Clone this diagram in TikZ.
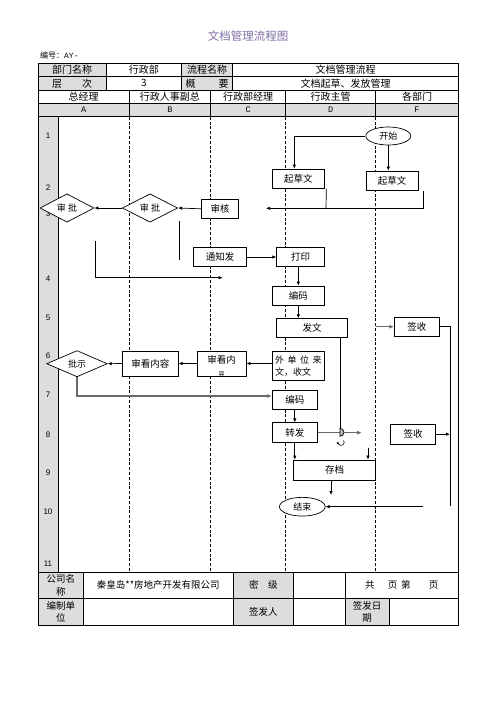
\documentclass[tikz,border=0pt]{standalone}
\usepackage{fontspec}
\setmainfont{Noto Sans CJK SC}
\newfontfamily\monof{Liberation Mono}
\newfontfamily\numf{Liberation Sans}
\usetikzlibrary{shapes.geometric,arrows.meta}
\definecolor{cellgray}{RGB}{221,221,221}
\definecolor{titlec}{RGB}{128,112,165}
\definecolor{linegray}{RGB}{105,105,105}
\tikzset{
  ln/.style={line width=0.7pt},
  tbl/.style={line width=0.8pt},
  lane/.style={line width=0.7pt, dash pattern=on 3pt off 1.8pt},
  box/.style={draw, fill=white, line width=0.7pt, inner sep=0pt, font=\fontsize{9.5}{11}\selectfont},
  dia/.style={diamond, draw, fill=white, line width=0.7pt, inner sep=0pt, font=\fontsize{9}{11}\selectfont},
  oval/.style={ellipse, draw, fill=white, line width=0.7pt, inner sep=0pt, font=\fontsize{9}{11}\selectfont},
  arr/.style={line width=0.7pt, -{Latex[length=4pt,width=3.5pt]}},
  garr/.style={line width=1.3pt, draw=linegray, -{Latex[length=4.5pt,width=4pt]}},
  cell/.style={inner sep=0pt, font=\fontsize{10}{12}\selectfont},
  fcell/.style={inner sep=0pt, align=center, font=\fontsize{9.5}{12.5}\selectfont},
  letter/.style={inner sep=0pt, font=\monof\fontsize{8.5}{10}\selectfont},
  rownum/.style={inner sep=0pt, font=\numf\fontsize{8}{10}\selectfont}
}
\begin{document}
\begin{tikzpicture}[x=1pt,y=-1pt]
\useasboundingbox[fill=white] (0,0) rectangle (496,702);

% title
\node[inner sep=0pt, text=titlec, font=\fontsize{11.5}{14}\selectfont] (title) at (248,36) {文档管理流程图};
\node[inner sep=0pt, anchor=west, font=\fontsize{8}{10}\selectfont] (code) at (40,55) {编号：{\monof AY-}};

% header table
\fill[cellgray] (38.3,63.3) rectangle (106,90);
\fill[cellgray] (181.7,63.3) rectangle (232.7,90);
\fill[cellgray] (38.3,103.3) rectangle (458.3,116.7);
\draw[tbl] (38.3,63.3) rectangle (458.3,116.7);
\draw[tbl] (38.3,76.7) -- (458.3,76.7);
\draw[tbl] (38.3,90) -- (458.3,90);
\draw[tbl] (38.3,103.3) -- (458.3,103.3);
\foreach \xx in {106,181.7,232.7} \draw[tbl] (\xx,63.3) -- (\xx,90);
\foreach \xx in {129,210.7,285.7,375.7} \draw[tbl] (\xx,90) -- (\xx,116.7);

\node[cell] (h11) at (72.2,70) {部门名称};
\node[cell] (h12) at (143.8,70) {行政部};
\node[cell] (h13) at (207.2,70) {流程名称};
\node[cell] (h14) at (345.5,70) {文档管理流程};
\node[cell] (h21) at (72.2,83.3) {层\hspace{2em}次};
\node[cell] (h22) at (143.8,83.3) {3};
\node[cell] (h23) at (207.2,83.3) {概\hspace{2.3em}要};
\node[cell] (h24) at (345.5,83.3) {文档起草、发放管理};
\node[cell] (n1) at (83.7,96.7) {总经理};
\node[cell] (n2) at (169.9,96.7) {行政人事副总};
\node[cell] (n3) at (248.2,96.7) {行政部经理};
\node[cell] (n4) at (330.7,96.7) {行政主管};
\node[cell] (n5) at (417,96.7) {各部门};
\node[letter] (la) at (83.7,110) {A};
\node[letter] (lb) at (169.9,110) {B};
\node[letter] (lc) at (248.2,110) {C};
\node[letter] (ld) at (330.7,110) {D};
\node[letter] (lf) at (417,110) {F};

% flow area
\fill[cellgray] (38.3,116.7) rectangle (58.3,572.3);
\foreach \xx in {129,210.7,285.7,375.7} \draw[lane] (\xx,116.7) -- (\xx,572.3);
\draw[tbl] (58.3,116.7) -- (58.3,572.3);
\draw[tbl] (38.3,116.7) rectangle (458.3,572.3);

\node[rownum] (r1) at (48,136) {1};
\node[rownum] (r2) at (48,187.7) {2};
\node[rownum] (r3) at (48,214) {3};
\node[rownum] (r4) at (48,279) {4};
\node[rownum] (r5) at (48,317.7) {5};
\node[rownum] (r6) at (48,356) {6};
\node[rownum] (r7) at (48,395) {7};
\node[rownum] (r8) at (48,435) {8};
\node[rownum] (r9) at (48,473) {9};
\node[rownum] (r10) at (48,512) {10};
\node[rownum] (r11) at (48,564) {11};

% nodes
\node[oval, minimum width=45, minimum height=18] (start) at (388.3,136) {开始};
\node[box, minimum width=52, minimum height=19.3] (qc1) at (298.3,178.7) {起草文};
\node[box, minimum width=52.3, minimum height=19.7] (qc2) at (392.2,180.8) {起草文};
\node[box, minimum width=36.6, minimum height=19] (sh) at (220,208.8) {审核};
\node[dia, minimum width=55.4, minimum height=25.7] (dm2) at (150,208) {审 批};
\node[dia, minimum width=54, minimum height=25.7] (dm1) at (67,208) {审 批};
\node[box, minimum width=53.4, minimum height=19.4] (tzf) at (220,257) {通知发};
\node[box, minimum width=47.6, minimum height=18.3] (dy) at (300.5,256.8) {打印};
\node[box, minimum width=52, minimum height=19] (bm1) at (298.3,295.5) {编码};
\node[box, minimum width=70.6, minimum height=18.6] (fw) at (312,328) {发文};
\node[box, minimum width=45, minimum height=18.7] (qs1) at (416.8,326.7) {签收};
\node[dia, minimum width=60.6, minimum height=26] (ps) at (77,363.7) {批示};
\node[box, minimum width=56, minimum height=25] (skn) at (150.3,363.5) {审看内容};
\node[box, minimum width=48.7, minimum height=25] (skn2) at (221.7,363.5) {};
\begin{scope}
\clip (skn2.south west) rectangle (skn2.north east);
\node[inner sep=0pt, font=\fontsize{9.5}{11}\selectfont] (skn2a) at (221.7,360) {审看内};
\node[inner sep=0pt, font=\fontsize{6}{7}\selectfont] (skn2b) at (221.7,374.5) {容};
\end{scope}
\node[box, minimum width=52, minimum height=29, align=left, font=\fontsize{9}{12.5}\selectfont] (wdw) at (298.3,366.2) {外\hspace{3.5pt}单\hspace{3.5pt}位\hspace{3.5pt}来\\文，收文};
\node[box, minimum width=45, minimum height=18.6] (bm2) at (294.8,400) {编码};
\node[box, minimum width=45, minimum height=20] (zf) at (294.8,432.7) {转发};
\node[box, minimum width=45, minimum height=20.3] (qs2) at (413.2,434.2) {签收};
\node[box, minimum width=82.4, minimum height=20.7] (cd) at (334.5,470.3) {存档};
\node[oval, minimum width=45.7, minimum height=18.7] (end) at (302.3,506.7) {结束};

% free-end coordinates
\coordinate (j1) at (326,208.3);
\coordinate (tip1) at (266,208.3);
\coordinate (l1a) at (179,221);
\coordinate (l1b) at (179,260);
\coordinate (l2a) at (95.7,241);
\coordinate (l2b) at (222.7,277.7);
\coordinate (g1) at (375.7,326.7);
\coordinate (rv) at (450,506);
\coordinate (r2) at (423.3,506.7);
\coordinate (jmp) at (340,428.3);
\coordinate (tip2) at (361.7,432.7);
\coordinate (c1) at (368,448);
\coordinate (c2) at (331,495);

% connectors
\draw[arr] (start.west) -| ([xshift=-4pt]qc1.north);
\draw[arr] (start.south) -- (start.south |- qc2.north);
\draw[ln] ([xshift=1.7pt]qc1.south east) -- (j1);
\draw[arr] ([xshift=5pt]qc2.south east) |- (tip1);
\draw[arr] (sh.west) -- (dm2.east);
\draw[arr] (dm2.west) -- (dm1.east);
\draw[ln] (l1a) -- (l1b);
\draw[arr] (l2a) |- (l2b);
\draw[arr] (tzf.east) -- (tzf.east -| dy.west);
\draw[arr] (bm1.north |- dy.south) -- (bm1.north);
\draw[arr] (bm1.south) -- (bm1.south |- fw.north);
\draw[garr] (g1) -- (qs1.west);
\draw[ln] (qs1.east) -| (rv);
\draw[arr] (qs2.east) -- (qs2.east -| rv);
\draw[arr] (r2) -- (end.east);
\draw[ln] (jmp |- fw.south) -- (jmp);
\draw[garr] (zf.east) -- (tip2);
\filldraw[ln, fill=gray!55] (jmp) arc[start angle=270, end angle=450, radius=4] -- cycle;
\draw[line width=0.6pt, -{Latex[length=2.5pt,width=2.5pt]}] (343.5,440.5) arc[start angle=-40, end angle=200, radius=3];
\draw[arr] (c1) -- (c1 |- cd.north);
\draw[arr] (zf.south) -- (zf.south |- cd.north);
\draw[arr] (cd.south -| c2) -- (c2);
\draw[arr] (wdw.west |- skn2.east) -- (skn2.east);
\draw[arr] (skn2.west) -- (skn.east);
\draw[arr] (skn.west) -- (ps.east);
\draw[garr] (ps.south) |- ([yshift=4pt]bm2.west);
\draw[arr] (bm2.south) -- (zf.north);

% footer
\fill[cellgray] (38.3,572.3) rectangle (83.3,625);
\fill[cellgray] (233.3,572.3) rectangle (293.3,625);
\fill[cellgray] (345,598.3) rectangle (389.3,625);
\draw[tbl] (38.3,572.3) rectangle (458.3,625);
\draw[tbl] (38.3,598.3) -- (458.3,598.3);
\foreach \xx in {83.3,233.3,293.3,345} \draw[tbl] (\xx,572.3) -- (\xx,625);
\draw[tbl] (389.3,598.3) -- (389.3,625);
\node[fcell] (f1) at (60.8,585.3) {公司名\\称};
\node[fcell] (f2) at (158.3,585.3) {秦皇岛**房地产开发有限公司};
\node[fcell] (f3) at (263.3,585.3) {密\hspace{1em}级};
\node[fcell] (f4) at (401.7,585.3) {共\hspace{1.4em}页\hspace{0.4em}第\hspace{1.9em}页};
\node[fcell] (f5) at (60.8,611.7) {编制单\\位};
\node[fcell] (f6) at (263.3,611.7) {签发人};
\node[fcell] (f7) at (367.2,611.7) {签发日\\期};
\end{tikzpicture}
\end{document}
